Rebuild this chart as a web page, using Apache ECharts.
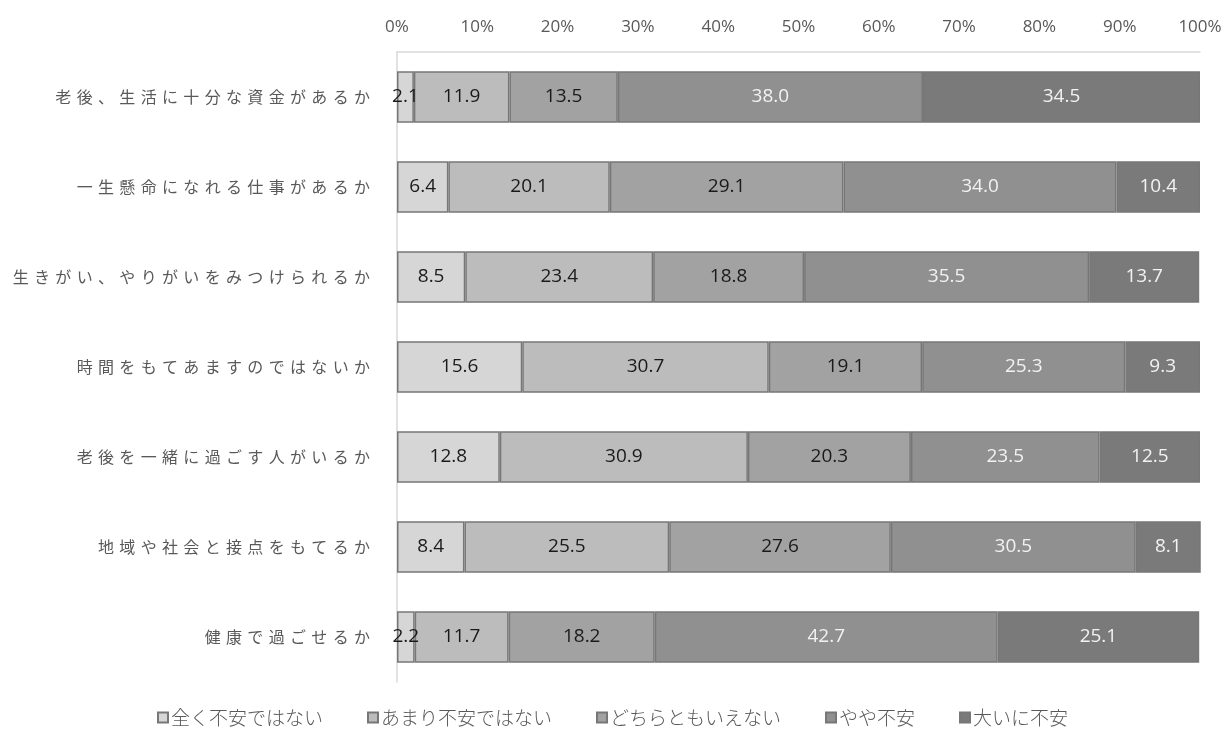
<!DOCTYPE html>
<html><head><meta charset="utf-8">
<script src="https://cdn.jsdelivr.net/npm/echarts@6/dist/echarts.min.js"></script>
<style>html,body{margin:0;padding:0;background:#fff}#c{width:1225px;height:732px}</style>
</head><body><div id="c"></div>
<script>
const categories = ['老後、生活に十分な資金があるか','一生懸命になれる仕事があるか','生きがい、やりがいをみつけられるか','時間をもてあますのではないか','老後を一緒に過ごす人がいるか','地域や社会と接点をもてるか','健康で過ごせるか'];
const seriesNames = ['全く不安ではない','あまり不安ではない','どちらともいえない','やや不安','大いに不安'];
const s1 = [2.1, 6.4, 8.5, 15.6, 12.8, 8.4, 2.2];
const s2 = [11.9, 20.1, 23.4, 30.7, 30.9, 25.5, 11.7];
const s3 = [13.5, 29.1, 18.8, 19.1, 20.3, 27.6, 18.2];
const s4 = [38.0, 34.0, 35.5, 25.3, 23.5, 30.5, 42.7];
const s5 = [34.5, 10.4, 13.7, 9.3, 12.5, 8.1, 25.1];
const xTicks = [0,10,20,30,40,50,60,70,80,90,100];

const values = [s1,s2,s3,s4,s5];
const colors = ['#d6d6d6','#bcbcbc','#a2a2a2','#909090','#7a7a7a'];
const labelColors = ['#1a1a1a','#1a1a1a','#1a1a1a','#f2f2f2','#f2f2f2'];
const chart = echarts.init(document.getElementById('c'));
chart.setOption({
  animation:false,
  textStyle:{fontFamily:'"Noto Sans CJK JP","Noto Sans",sans-serif'},
  grid:{left:397,right:25,top:52,bottom:50},
  legend:{bottom:0,left:'center',itemWidth:10,itemHeight:10,itemGap:44,icon:'rect',
    textStyle:{color:'#595959',fontSize:19,padding:[0,0,0,-2],fontFamily:'"Noto Sans CJK JP",sans-serif',fontWeight:300},
    data:seriesNames},
  xAxis:{type:'value',position:'top',min:xTicks[0],max:xTicks[xTicks.length-1],interval:10,
    axisLabel:{formatter:v=>v+'%',color:'#595959',fontSize:17,margin:16,fontFamily:'"Open Sans","Noto Sans",sans-serif'},
    axisLine:{show:true,lineStyle:{color:'#d9d9d9',width:1.5}},axisTick:{show:false},splitLine:{show:false}},
  yAxis:{type:'category',inverse:true,data:categories,
    axisLine:{show:true,lineStyle:{color:'#d9d9d9',width:1.5}},axisTick:{show:false},
    axisLabel:{color:'#595959',fontSize:16,margin:27,
      formatter:v=>Array.from(v).join('\u2004')}},
  series: values.map((d,i)=>({
    name:seriesNames[i],type:'bar',stack:'t',barWidth:'57%',data:d,
    itemStyle:{color:colors[i],borderColor:'#777777',borderWidth:1.5},
    label:{show:true,position:'inside',formatter:p=>p.value.toFixed(1),
      color:labelColors[i],fontSize:19,fontFamily:'"Open Sans","Noto Sans",sans-serif'}
  }))
});
</script></body></html>
